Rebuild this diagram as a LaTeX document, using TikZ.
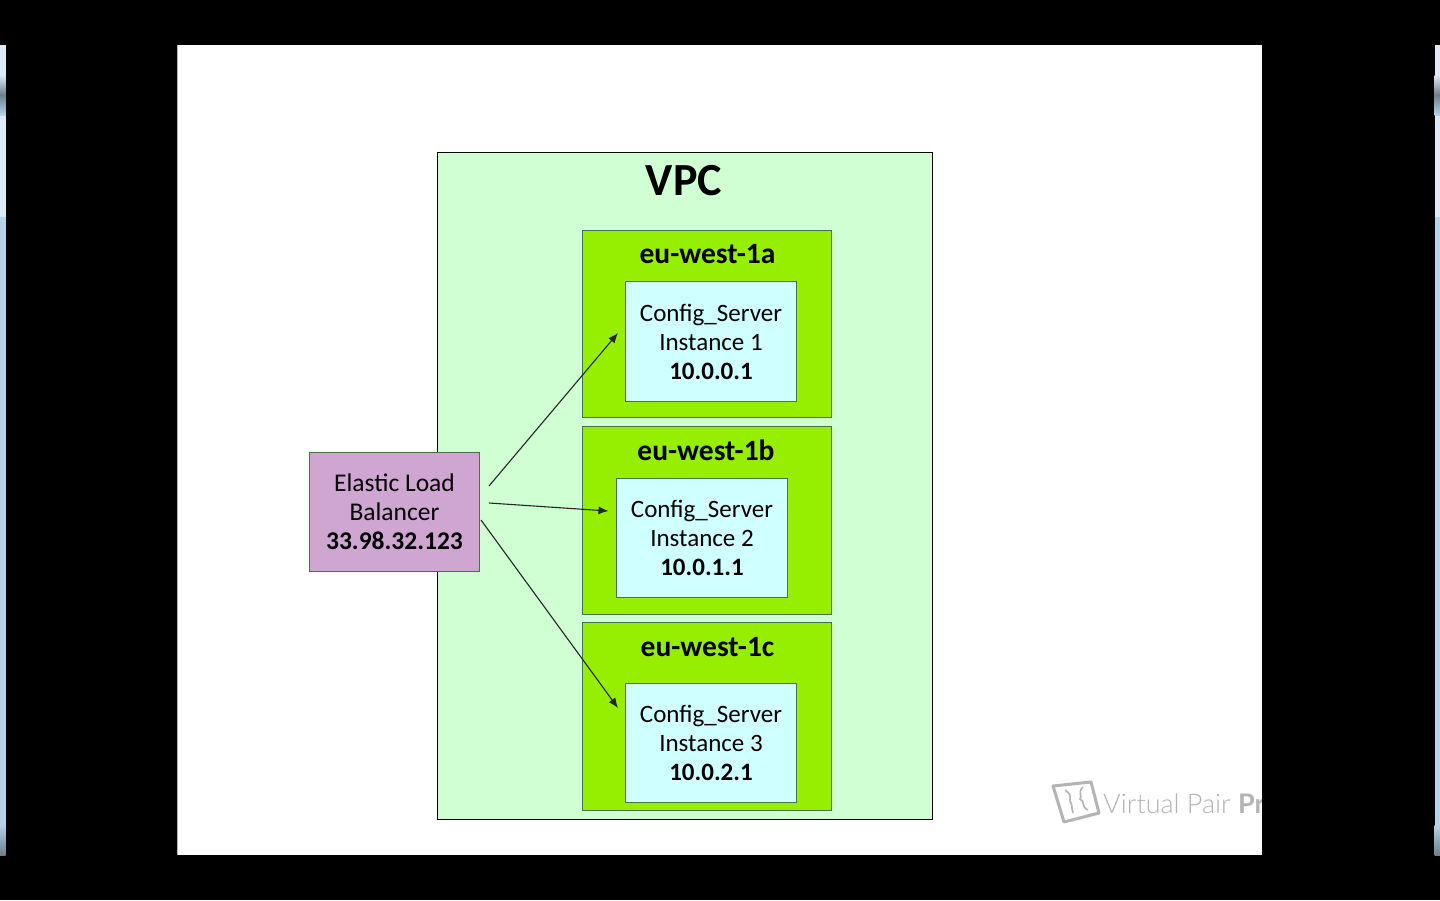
\documentclass[tikz,border=0pt]{standalone}
\usepackage{fontspec}
\setmainfont{Carlito}
\newfontfamily\logofont{Lato Light}
\newfontfamily\logobold{Lato}
\usetikzlibrary{arrows.meta}
\definecolor{vpcgreen}{HTML}{CFFFD2}
\definecolor{zonegreen}{HTML}{96EE00}
\definecolor{instblue}{HTML}{CFFFFF}
\definecolor{elbpurple}{HTML}{CFA5D2}
\definecolor{boxline}{HTML}{4F6F4F}
\definecolor{stripblue}{HTML}{B5D3EA}
\definecolor{striplight}{HTML}{DCEBF7}
\definecolor{stripdark}{HTML}{6E7F8C}
\definecolor{logogrey}{HTML}{B4B4B4}

\tikzset{
  vpcbox/.style={draw=black, fill=vpcgreen, line width=1pt, minimum width=495.5pt, minimum height=667pt, inner sep=0pt},
  zonebox/.style={draw=boxline, fill=zonegreen, line width=1pt, minimum width=248.5pt, minimum height=187.5pt, inner sep=0pt},
  instbox/.style={draw=boxline, fill=instblue, line width=1pt, minimum width=171pt, minimum height=119.5pt, inner sep=0pt,
                  align=center, font=\fontsize{25}{29}\selectfont},
  elbbox/.style={draw=boxline, fill=elbpurple, line width=1pt, minimum width=170pt, minimum height=119pt, inner sep=0pt,
                 align=center, font=\fontsize{25}{29}\selectfont},
  zonelabel/.style={font=\fontsize{29.5}{30}\selectfont\bfseries, inner sep=0pt},
  flow/.style={-{Latex[length=10pt,width=8pt]}, line width=1.1pt, draw=black!85},
  stripdarkpart/.style={top color=striplight, bottom color=stripblue, middle color=stripdark},
}

\begin{document}
\begin{tikzpicture}[x=1pt,y=-1pt]

  \useasboundingbox (0,0) rectangle (1440,900);
  \fill [black] (0,0) rectangle (1440,900);
  \fill [white] (178,45) rectangle (1262,855);
  \draw [black!30, line width=1pt] (177.5,45) -- (177.5,855);

  % window edges
  \fill [stripblue] (0,45) rectangle (5.5,855);
  \fill [stripblue] (1434.5,45) rectangle (1440,855);
  \fill [striplight] (0,45) rectangle (5.5,217);
  \fill [striplight] (1434.5,45) rectangle (1440,217);
  \shade [stripdarkpart] (0,75) rectangle (5.5,115);
  \shade [stripdarkpart] (1434.5,75) rectangle (1440,115);
  \shade [top color=stripblue, bottom color=stripdark] (0,825) rectangle (5.5,855);
  \shade [top color=stripblue, bottom color=stripdark] (1434.5,825) rectangle (1440,855);

  % boxes
  \node [vpcbox] (vpc) at (685,486) {};
  \node [font=\fontsize{46}{46}\selectfont\bfseries, inner sep=0pt] (vpclabel) at (684,181) {VPC};

  \node [zonebox] (zonea) at (706.75,324) {};
  \node [zonebox] (zoneb) at (706.75,520.5) {};
  \node [zonebox] (zonec) at (706.75,716.5) {};
  \node [zonelabel] (zonealabel) at (707.5,254) {eu-west-1a};
  \node [zonelabel] (zoneblabel) at (706,450) {eu-west-1b};
  \node [zonelabel] (zoneclabel) at (707.5,647) {eu-west-1c};

  \node [instbox] (insta) at (711,341.5) {Config\_Server\\Instance 1\\\textbf{10.0.0.1}};
  \node [instbox] (instb) at (702,538) {Config\_Server\\Instance 2\\\textbf{10.0.1.1}};
  \node [instbox] (instc) at (711,743) {Config\_Server\\Instance 3\\\textbf{10.0.2.1}};

  \node [elbbox, font=\fontsize{25.5}{29}\selectfont] (elb) at (394.5,512) {Elastic Load\\Balancer\\\textbf{33.98.32.123}};

  % arrow ends stop short of the boxes
  \coordinate (elba) at (489,486);
  \coordinate (elbb) at (489,503);
  \coordinate (elbc) at (481,520);
  \coordinate (enda) at (618,333);
  \coordinate (endb) at (608.5,511);
  \coordinate (endc) at (618,708);
  \draw [flow] (elba) -- (enda);
  \draw [flow] (elbb) -- (endb);
  \draw [flow] (elbc) -- (endc);

  % watermark
  \begin{scope}[draw=logogrey, line width=3pt]
    \draw [line join=round] (1053,786) -- (1091,782) -- (1099,813) -- (1064,822) -- cycle;
    \draw [line width=1.6pt] (1065,790) .. controls (1075,797) and (1067,800) .. (1071,803) .. controls (1073,807) and (1071,810) .. (1073,813);
    \draw [line width=1.6pt] (1083,787) .. controls (1077,793) and (1083,796) .. (1080,799) .. controls (1086,802) and (1080,806) .. (1088,810);
  \end{scope}
  \node [logogrey, anchor=base west, inner sep=0pt, font=\fontsize{27}{27}\logofont] (logotext) at (1103,813) {Virtual Pair {\logobold\bfseries Pr}};
  \fill [black] (1262,780) rectangle (1290,855);

\end{tikzpicture}
\end{document}
